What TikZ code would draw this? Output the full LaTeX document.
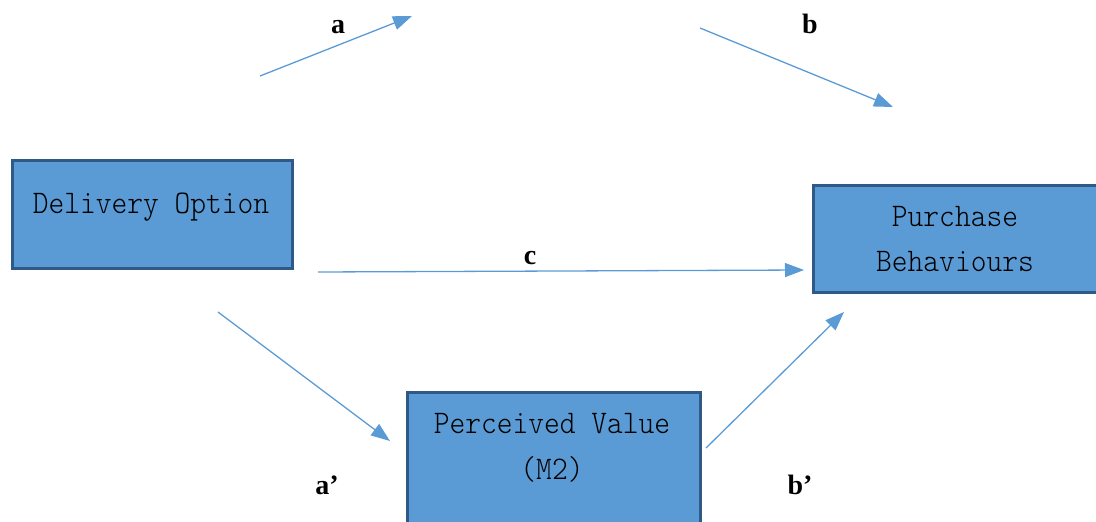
\documentclass[tikz,border=0pt]{standalone}
\usepackage{fontspec}
\setmainfont{Liberation Serif}
\newfontfamily\boxfont[FakeStretch=0.91]{Latin Modern Mono Light}
\usetikzlibrary{arrows.meta}
\definecolor{boxfill}{HTML}{5B9BD5}
\definecolor{boxline}{HTML}{2F5A87}
\definecolor{arr}{HTML}{5B9BD5}
\begin{document}
\begin{tikzpicture}[x=1pt,y=-1pt,
  box/.style={draw=boxline, line width=2.8pt, fill=boxfill, inner sep=0pt, anchor=north west},
  conn/.style={draw=arr, line width=1.3pt, -{Triangle[length=19pt,width=14pt]}},
  lbl/.style={font=\fontsize{28}{30}\selectfont\bfseries, anchor=base, inner sep=0pt},
  btxt/.style={font=\fontsize{33}{36}\selectfont\boxfont, anchor=base, inner sep=0pt}]
\useasboundingbox (0,0) rectangle (1096,522);
\begin{scope}
\clip (0,0) rectangle (1096,522);
\node[box, minimum width=280pt, minimum height=108pt] (deliv) at (11,159) {};
\node[box, minimum width=300pt, minimum height=107pt] (purch) at (812,184) {};
\node[box, minimum width=293pt, minimum height=150pt] (perc) at (406,391) {};
\end{scope}
\node[btxt] (tdeliv) at (151,213) {Delivery Option};
\node[btxt] (tpurch1) at (955,226) {Purchase};
\node[btxt] (tpurch2) at (955,271) {Behaviours};
\node[btxt] (tperc1) at (552,433) {Perceived Value};
\node[btxt] (tperc2) at (552,479) {(M2)};
% free ends
\coordinate (a0) at (260,76);
\coordinate (a1) at (412,16);
\coordinate (b0) at (700,28);
\coordinate (b1) at (893,107);
\coordinate (c0) at (318,272);
\coordinate (c1) at (804,270);
\coordinate (d0) at (218,312);
\coordinate (d1) at (390,441);
\coordinate (e0) at (706,448);
\coordinate (e1) at (844,312);
\draw[conn] (a0) -- (a1);
\draw[conn] (b0) -- (b1);
\draw[conn] (c0) -- (c1);
\draw[conn] (d0) -- (d1);
\draw[conn] (e0) -- (e1);
\node[lbl] (la) at (338,34) {a};
\node[lbl] (lb) at (810,34) {b};
\node[lbl] (lc) at (530,264) {c};
\node[lbl] (lap) at (327,494) {a’};
\node[lbl] (lbp) at (800,494) {b’};
\end{tikzpicture}
\end{document}
